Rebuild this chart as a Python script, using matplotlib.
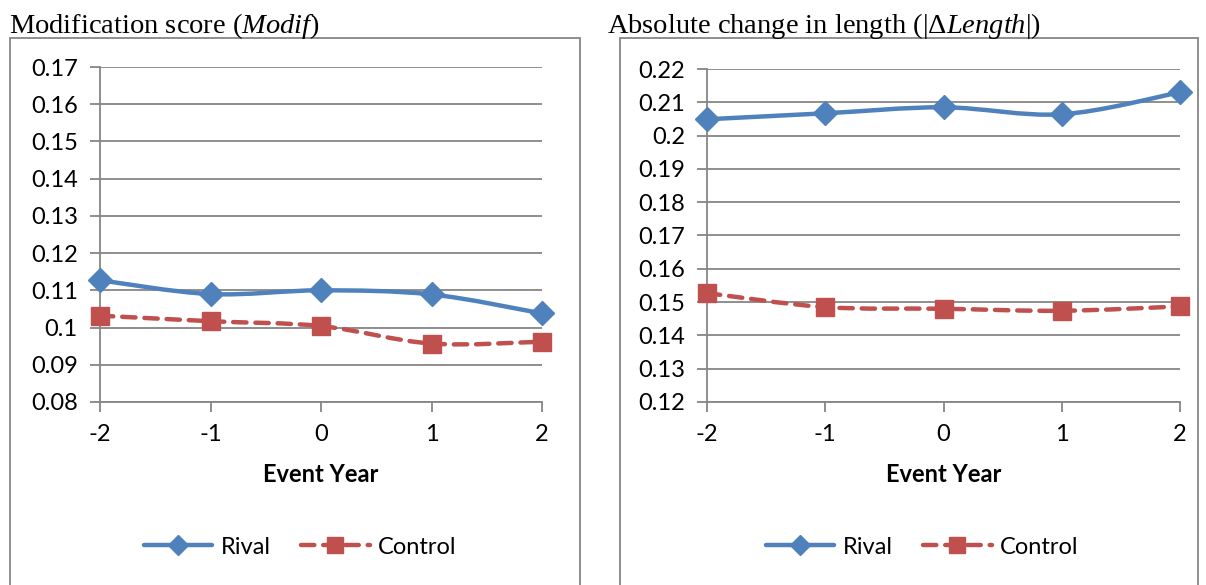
import numpy as np
import matplotlib
matplotlib.use("Agg")
import matplotlib.pyplot as plt
from matplotlib.path import Path
from matplotlib.patches import PathPatch, Rectangle
from matplotlib.lines import Line2D

plt.rcParams['font.family'] = ['Lato', 'DejaVu Sans']
plt.rcParams['mathtext.fontset'] = 'custom'
plt.rcParams['mathtext.rm'] = 'Liberation Serif'
plt.rcParams['mathtext.it'] = 'Liberation Serif:italic'

event_year = [-2, -1, 0, 1, 2]
modif_rival = [0.1127, 0.1090, 0.1100, 0.1089, 0.1038]
modif_control = [0.1032, 0.1017, 0.1004, 0.0957, 0.0962]
length_rival = [0.2049, 0.2067, 0.2085, 0.2064, 0.2130]
length_control = [0.1527, 0.1485, 0.1480, 0.1474, 0.1487]

modif_ticks = [0.08, 0.09, 0.1, 0.11, 0.12, 0.13, 0.14, 0.15, 0.16, 0.17]
length_ticks = [0.12, 0.13, 0.14, 0.15, 0.16, 0.17, 0.18, 0.19, 0.2, 0.21, 0.22]

blue = '#4F81BD'
red = '#C0504D'
gray = '#868686'

fig = plt.figure(figsize=(12.06, 5.85), dpi=100)


def smooth_line(ax, x, y, color, dashed=False):
    # Excel-style smoothed line: cubic bezier through the points, built in pixel space
    pts = ax.transData.transform(np.column_stack([x, y]))
    n = len(pts)
    verts = [pts[0]]
    codes = [Path.MOVETO]
    for i in range(n - 1):
        p0 = pts[max(i - 1, 0)]
        p1 = pts[i]
        p2 = pts[i + 1]
        p3 = pts[min(i + 2, n - 1)]
        c1 = p1 + (p2 - p0) / 6.0
        c2 = p2 - (p3 - p1) / 6.0
        verts += [c1, c2, p2]
        codes += [Path.CURVE4] * 3
    verts = ax.transData.inverted().transform(np.array(verts))
    patch = PathPatch(Path(verts, codes), fill=False, edgecolor=color, lw=3.2,
                      capstyle='round', joinstyle='round', zorder=3)
    if dashed:
        patch.set_linestyle((0, (3.0, 2.0)))
    ax.add_patch(patch)


def panel(rect, box, title, title_x, legend_x, rival, control, ticks):
    fig.add_artist(Rectangle((box[0], -0.02), box[1] - box[0], box[2] + 0.02,
                             transform=fig.transFigure, fill=False,
                             edgecolor=gray, lw=1.3))
    fig.text(title_x, 1 - 33 / 585, title, fontsize=20.5,
             family='Liberation Serif', ha='left', va='baseline')
    ax = fig.add_axes(rect)
    ax.set_xlim(event_year[0], event_year[-1])
    ax.set_ylim(ticks[0], ticks[-1])
    ax.set_yticks(ticks)
    ax.set_yticklabels(['%g' % t for t in ticks])
    ax.set_xticks(event_year)
    ax.set_xticklabels([str(v) for v in event_year])
    for s in ['top', 'right']:
        ax.spines[s].set_visible(False)
    for s in ['left', 'bottom']:
        ax.spines[s].set_color(gray)
        ax.spines[s].set_linewidth(1.3)
    ax.grid(axis='y', color=gray, lw=1.3)
    ax.set_axisbelow(True)
    ax.tick_params(axis='both', colors=gray, labelcolor='black', labelsize=17,
                   length=7, width=1.3)
    ax.tick_params(axis='y', pad=9)
    ax.tick_params(axis='x', pad=9)
    ax.set_xlabel('Event Year', fontsize=17, fontweight='bold', labelpad=13)
    ax.patch.set_alpha(0)

    smooth_line(ax, event_year, rival, blue)
    smooth_line(ax, event_year, control, red, dashed=True)
    ax.plot(event_year, rival, ls='none', marker='D', ms=12, color=blue,
            zorder=4, clip_on=False)
    ax.plot(event_year, control, ls='none', marker='s', ms=13, color=red,
            zorder=4, clip_on=False)

    handles = [
        Line2D([], [], color=blue, lw=3.2, marker='D', ms=10,
               solid_capstyle='round'),
        Line2D([], [], color=red, lw=3.2, marker='s', ms=11,
               dashes=(3.0, 2.0), dash_capstyle='round'),
    ]
    fig.legend(handles, ['Rival', 'Control'], loc='center',
               bbox_to_anchor=(legend_x, 1 - 547 / 585), ncol=2, frameon=False,
               fontsize=17, handlelength=2.9, numpoints=1,
               columnspacing=1.3, handletextpad=0.35)
    return ax


panel([100 / 1206, 1 - 402 / 585, 442 / 1206, 335 / 585],
      (10 / 1206, 580 / 1206, 1 - 38 / 585),
      r'Modification score ($\mathit{Modif}$)', 9 / 1206, 300 / 1206,
      modif_rival, modif_control, modif_ticks)

panel([707 / 1206, 1 - 402 / 585, 473 / 1206, 333 / 585],
      (620 / 1206, 1198 / 1206, 1 - 38 / 585),
      r'Absolute change in length (|$\Delta\mathit{Length}$|)', 607 / 1206,
      922 / 1206, length_rival, length_control, length_ticks)

fig.savefig('out.png', dpi=100)
